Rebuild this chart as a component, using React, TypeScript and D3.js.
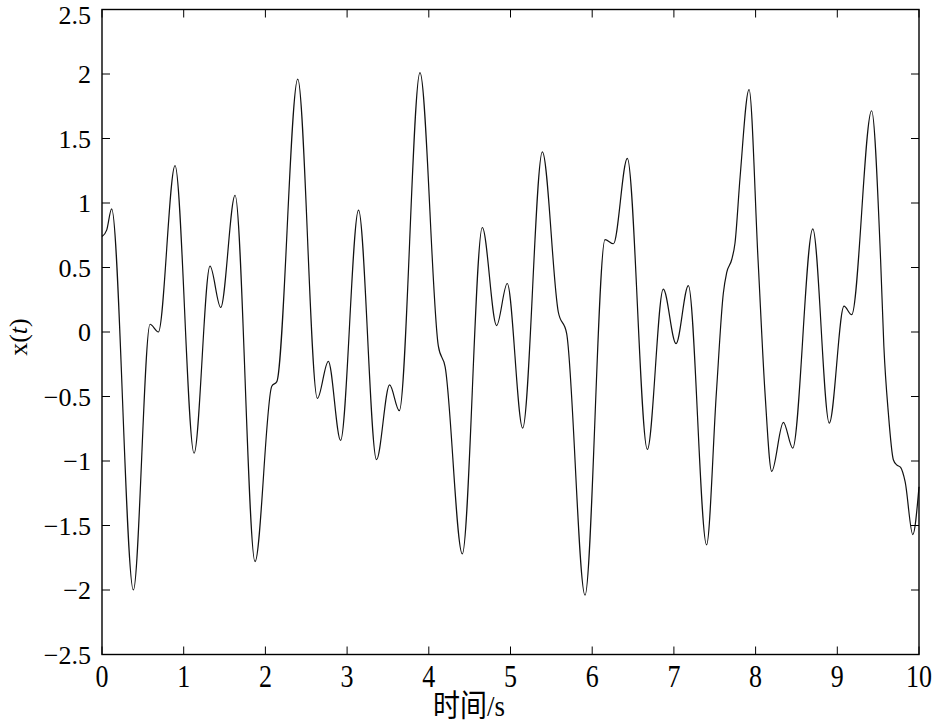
import React from "react";
import * as d3 from "d3";

const timeValues = [0, 0.057, 0.118, 0.384, 0.588, 0.69, 0.894, 1.127, 1.322, 1.453, 1.629, 1.873, 2.078, 2.14, 2.396, 2.636, 2.77, 2.92, 3.14, 3.36, 3.52, 3.639, 3.892, 4.117, 4.2, 4.41, 4.655, 4.83, 4.96, 5.149, 5.39, 5.585, 5.687, 5.912, 6.157, 6.26, 6.43, 6.675, 6.87, 7.026, 7.177, 7.4, 7.52, 7.605, 7.646, 7.707, 7.748, 7.81, 7.92, 8.03, 8.115, 8.197, 8.34, 8.454, 8.7, 8.902, 9.082, 9.176, 9.42, 9.53, 9.57, 9.625, 9.686, 9.727, 9.775, 9.83, 9.924, 10.0];
const signalValues = [0.74, 0.79, 0.955, -2.0, 0.06, 0.0, 1.29, -0.94, 0.51, 0.19, 1.06, -1.78, -0.42, -0.385, 1.96, -0.515, -0.227, -0.84, 0.945, -0.99, -0.41, -0.61, 2.01, -0.11, -0.27, -1.72, 0.81, 0.05, 0.376, -0.745, 1.396, 0.155, -0.01, -2.04, 0.716, 0.684, 1.346, -0.91, 0.333, -0.09, 0.36, -1.65, -0.47, 0.3, 0.46, 0.56, 0.69, 1.2, 1.88, 0.56, -0.47, -1.08, -0.7, -0.9, 0.8, -0.706, 0.2, 0.134, 1.715, 0.56, -0.11, -0.63, -0.99, -1.03, -1.05, -1.16, -1.57, -1.2];
const xTicks = [0, 1, 2, 3, 4, 5, 6, 7, 8, 9, 10];
const yTicks = [2.5, 2, 1.5, 1, 0.5, 0, -0.5, -1, -1.5, -2, -2.5];

const W = 932, H = 724;
const L = 102, R = 919, T = 9.5, B = 654.5;

export default function App() {
  const x = d3.scaleLinear().domain([0, 10]).range([L, R]);
  const y = d3.scaleLinear().domain([-2.5, 2.5]).range([B, T]);
  const pts = timeValues.map((t, i) => [t, signalValues[i]] as [number, number]);
  const line = d3.line<[number, number]>().x(d => x(d[0])).y(d => y(d[1])).curve(d3.curveMonotoneX);
  const serif = "Liberation Serif, Times New Roman, DejaVu Serif, serif";
  const fmt = (v: number) => (v < 0 ? "\u2212" + String(-v) : String(v));
  return (
    <svg width={W} height={H} style={{ position: "absolute", left: 0, top: 0, background: "#fff" }}>
      <rect x={0} y={0} width={W} height={H} fill="#fff" />
      <path d={line(pts) || ""} fill="none" stroke="#111" strokeWidth={1.2} />
      {xTicks.map(t => (
        <g key={"xt" + t}>
          <line x1={x(t)} x2={x(t)} y1={B} y2={B - 8} stroke="#000" strokeWidth={1} />
          <line x1={x(t)} x2={x(t)} y1={T} y2={T + 8} stroke="#000" strokeWidth={1} />
          <g transform={`translate(${x(t)},687) scale(1,1.18)`}>
            <text x={0} y={0} textAnchor="middle" fontFamily={serif} fontSize={26} fill="#000">{String(t)}</text>
          </g>
        </g>
      ))}
      {yTicks.map(v => (
        <g key={"yt" + v}>
          <line x1={L} x2={L + 8} y1={y(v)} y2={y(v)} stroke="#000" strokeWidth={1} />
          <line x1={R} x2={R - 8} y1={y(v)} y2={y(v)} stroke="#000" strokeWidth={1} />
          <text x={91} y={Math.max(y(v) + 9, 24)} textAnchor="end" fontFamily={serif} fontSize={26} fill="#000">{fmt(v)}</text>
        </g>
      ))}
      <rect x={L} y={T} width={R - L} height={B - T} fill="none" stroke="#000" strokeWidth={1.4} />
      <g transform="translate(27,337) rotate(-90)">
        <text x={0} y={0} textAnchor="middle" fontFamily={serif} fontSize={26} fill="#000">
          x(<tspan fontStyle="italic">t</tspan>)
        </text>
      </g>
      <g transform="translate(433,716) scale(1,1.12)">
        <text x={0} y={0} textAnchor="start" fontSize={27} fill="#000">
          <tspan fontFamily="Noto Sans CJK SC, sans-serif">时间</tspan>
          <tspan fontFamily={serif}>/s</tspan>
        </text>
      </g>
    </svg>
  );
}
